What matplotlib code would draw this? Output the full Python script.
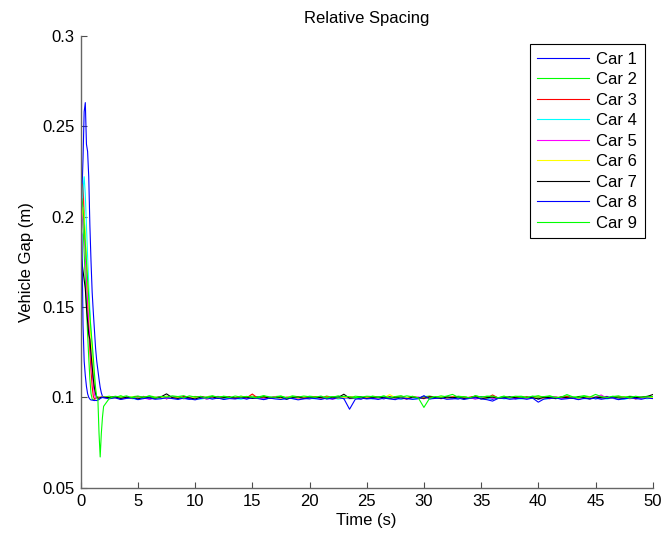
#imports
import numpy as np
from matplotlib import pyplot as plt

#time grid (s): fine samples through the start-up, then every 0.5 s
t_start = [0.0, 0.1, 0.2, 0.3, 0.4, 0.5, 0.6, 0.7, 0.8, 0.9, 1.0,
           1.1, 1.2, 1.3, 1.4, 1.5, 1.6, 1.7, 1.8, 1.9, 2.0]
t_steady = np.arange(2.5, 50.01, 0.5)

car_names = ["Car 1", "Car 2", "Car 3", "Car 4", "Car 5",
             "Car 6", "Car 7", "Car 8", "Car 9"]
#old matlab colour order b g r c m y k
car_colors = ["#0000ff", "#00ff00", "#ff0000", "#00ffff", "#ff00ff",
              "#ffff00", "#000000", "#0000ff", "#00ff00"]

#gap during start-up (mm)
car1_start = [205, 212, 232, 258, 263, 240, 236, 222, 195, 175, 158,
              147, 137, 127, 120, 115, 110, 105.5, 102.5, 100.5, 100.0]
car2_start = [200, 205, 195, 180, 165, 150, 135, 122, 110, 102, 99.0,
              98.5, 99.0, 99.5, 100.0, 100.1, 100.0, 99.9, 100.1, 100.0, 100.1]
car3_start = [190, 205, 218, 200, 185, 168, 152, 138, 126, 115, 106,
              100.5, 99.0, 99.3, 99.8, 100.0, 99.9, 100.0, 100.1, 99.9, 100.0]
car4_start = [180, 200, 215, 222, 212, 195, 178, 162, 148, 136, 125,
              115, 107, 101, 99.3, 99.5, 99.8, 99.9, 99.7, 99.8, 99.9]
car5_start = [185, 195, 205, 195, 180, 168, 155, 143, 132, 122, 114,
              107, 101.5, 99.5, 99.4, 99.8, 100.0, 99.8, 99.9, 100.0, 99.8]
car6_start = [195, 200, 205, 200, 190, 178, 165, 153, 142, 132, 123,
              115, 108, 103, 100.0, 99.5, 99.8, 100.0, 99.9, 100.1, 99.9]
car7_start = [180, 175, 170, 165, 160, 150, 142, 135, 132, 124, 117,
              110, 105, 102, 100.3, 99.6, 99.5, 99.8, 100.0, 99.9, 100.0]
car8_start = [195, 190, 140, 120, 112, 106, 102, 100.0, 99.0, 98.5, 98.5,
              98.3, 98.2, 98.3, 98.2, 98.5, 98.8, 99.3, 99.7, 100.0, 99.8]
car9_start = [200, 210, 205, 195, 185, 175, 165, 155, 145, 137, 130,
              122, 113, 105, 100.0, 98.8, 80.0, 67.0, 80.0, 89.0, 95.0]

#gap from 2.5 s to 50 s (mm)
car1_steady = [99.6, 100.4, 99.1, 100.2, 99.3, 99.9, 100.5, 99.0, 99.7, 100.3, 99.2, 100.0,
               100.4, 99.4, 98.9, 99.8, 100.3, 99.1, 99.6, 100.5, 99.0, 99.9, 99.5, 100.2,
               99.2, 99.8, 100.4, 99.0, 99.5, 100.3, 99.3, 98.9, 99.9, 100.4, 99.4, 99.1,
               99.8, 100.3, 99.0, 99.5, 100.4, 99.2, 99.7, 99.4, 98.9, 100.2, 99.6, 99.8,
               99.1, 100.4, 99.5, 99.0, 99.8, 100.2, 99.4, 100.6, 99.2, 99.7, 99.5, 100.1,
               99.4, 99.0, 100.2, 99.7, 99.2, 100.4, 99.5, 98.9, 99.8, 99.4, 100.3, 99.1,
               99.7, 99.3, 100.4, 99.0, 99.5, 100.2, 99.2, 99.8, 100.4, 99.4, 99.0, 99.7,
               100.2, 99.1, 99.7, 100.5, 99.4, 99.0, 99.8, 100.3, 99.2, 99.5, 100.4, 100.3]
car2_steady = [100.6, 99.8, 100.9, 99.6, 100.3, 100.7, 99.9, 100.8, 100.2, 99.5, 100.6, 100.0,
               100.4, 100.9, 99.7, 100.5, 99.5, 100.3, 100.8, 99.8, 100.6, 100.2, 99.6, 100.7,
               99.9, 100.6, 100.2, 100.9, 99.5, 100.4, 100.7, 99.8, 100.8, 100.3, 99.9, 100.6,
               100.3, 99.6, 100.7, 100.0, 100.8, 100.2, 99.7, 100.6, 100.3, 99.4, 100.7, 100.1,
               100.7, 99.9, 100.4, 100.9, 99.8, 100.6, 99.6, 100.3, 100.7, 100.0, 100.8, 100.2,
               100.0, 100.6, 100.3, 99.5, 100.9, 100.1, 100.6, 100.3, 99.8, 100.7, 99.6, 100.4,
               100.6, 100.0, 100.3, 100.9, 99.9, 100.6, 100.2, 99.5, 100.7, 100.0, 100.4, 100.9,
               100.3, 99.9, 100.7, 99.5, 100.4, 100.8, 100.0, 100.6, 100.2, 99.8, 100.6, 100.3]
car3_steady = [99.7, 100.3, 99.4, 100.0, 99.6, 100.5, 99.3, 100.1, 99.8, 100.4, 99.2, 100.0,
               99.6, 100.3, 99.4, 100.1, 100.5, 99.7, 99.3, 100.2, 99.6, 100.1, 99.4, 100.3,
               99.7, 101.8, 99.4, 100.0, 99.6, 100.3, 99.2, 100.1, 99.7, 100.4, 99.5, 99.8,
               100.1, 99.5, 100.3, 99.7, 100.0, 99.3, 100.3, 99.8, 99.4, 100.1, 100.4, 99.7,
               99.4, 100.1, 99.7, 100.3, 99.5, 100.1, 99.8, 99.2, 100.3, 99.7, 100.0, 99.5,
               100.3, 99.7, 99.4, 100.1, 100.5, 99.7, 99.4, 101.3, 99.6, 100.0, 99.4, 100.3,
               99.8, 100.1, 99.5, 100.3, 99.7, 99.2, 100.1, 99.7, 100.4, 99.5, 100.0, 99.7,
               100.3, 99.5, 99.8, 100.1, 99.4, 100.3, 99.7, 100.0, 99.1, 99.8, 100.3, 99.8]
car4_steady = [99.4, 99.9, 99.1, 99.6, 99.3, 98.9, 99.7, 99.4, 100.0, 99.2, 99.6, 99.4,
               99.7, 99.2, 99.9, 99.4, 99.0, 99.6, 99.3, 99.9, 99.1, 99.7, 99.4, 98.9,
               99.8, 99.4, 99.6, 99.1, 99.4, 99.9, 99.0, 99.6, 99.3, 99.1, 99.8, 99.4,
               99.2, 99.6, 99.3, 99.9, 99.0, 99.6, 99.2, 99.4, 99.9, 99.6, 99.1, 99.4,
               99.6, 99.3, 99.9, 99.1, 99.6, 98.9, 99.4, 99.8, 99.2, 99.6, 99.3, 99.9,
               99.3, 99.7, 99.1, 99.8, 99.4, 99.7, 99.0, 99.4, 99.9, 99.1, 99.6, 99.3,
               99.1, 99.8, 99.4, 99.7, 99.0, 99.4, 99.9, 99.2, 99.6, 99.4, 99.8, 99.2,
               99.6, 99.3, 99.9, 99.1, 99.6, 99.4, 98.9, 99.6, 99.4, 99.8, 99.2, 99.6]
car5_steady = [99.6, 100.1, 99.0, 99.8, 99.4, 100.2, 99.6, 98.9, 99.8, 100.1, 99.4, 99.6,
               100.0, 99.2, 99.8, 99.6, 100.2, 99.0, 99.8, 99.4, 100.0, 99.6, 99.2, 99.8,
               99.4, 100.0, 99.6, 99.0, 99.8, 100.2, 99.4, 99.6, 100.0, 99.2, 99.8, 99.6,
               100.0, 99.4, 99.8, 98.9, 99.6, 100.0, 99.4, 99.8, 99.6, 100.2, 99.2, 99.6,
               99.8, 99.4, 100.0, 99.6, 99.0, 99.8, 100.2, 99.4, 99.6, 100.0, 99.2, 99.8,
               99.6, 100.0, 99.4, 99.8, 99.0, 99.6, 100.2, 99.4, 99.8, 99.6, 100.0, 99.2,
               99.8, 99.4, 100.0, 99.6, 99.2, 99.8, 100.2, 99.4, 99.6, 100.0, 99.0, 99.8,
               99.6, 100.0, 101.3, 99.4, 99.8, 99.6, 100.0, 99.2, 99.8, 99.6, 100.2, 99.6]
car6_steady = [100.0, 99.6, 100.3, 99.8, 100.1, 99.4, 100.3, 99.8, 100.0, 99.6, 100.5, 99.8,
               100.0, 99.6, 100.3, 99.8, 99.4, 100.0, 100.3, 99.6, 99.8, 100.0, 99.4, 100.3,
               99.8, 100.0, 99.6, 100.3, 99.8, 100.0, 99.4, 99.8, 100.3, 99.6, 100.0, 99.8,
               100.3, 99.6, 100.0, 99.8, 99.4, 100.0, 100.3, 99.8, 99.6, 100.0, 100.3, 99.8,
               99.6, 101.5, 99.8, 100.0, 99.6, 100.3, 99.8, 100.0, 99.4, 99.8, 100.3, 99.6,
               100.0, 99.8, 100.3, 99.6, 100.0, 99.4, 99.8, 100.3, 99.6, 100.0, 99.8, 100.3,
               99.6, 100.0, 99.8, 100.3, 99.4, 100.0, 99.6, 100.3, 99.8, 100.0, 99.6, 99.8,
               100.3, 99.8, 100.0, 99.6, 100.0, 99.8, 100.3, 99.4, 99.8, 100.0, 99.6, 100.0]
car7_steady = [99.8, 100.2, 99.4, 100.0, 99.7, 99.1, 100.1, 99.8, 99.4, 100.2, 101.9, 99.8,
               99.4, 100.1, 99.7, 99.0, 100.2, 99.8, 100.3, 99.4, 99.8, 100.1, 99.5, 99.8,
               100.1, 99.4, 99.8, 100.3, 99.5, 99.8, 100.1, 99.1, 99.8, 100.1, 99.5, 99.8,
               100.1, 99.8, 99.4, 100.1, 99.8, 101.7, 99.5, 99.8, 100.1, 99.4, 99.8, 100.1,
               99.8, 99.4, 100.1, 99.8, 99.1, 100.1, 99.8, 99.5, 100.2, 99.8, 99.4, 100.1,
               99.8, 100.1, 99.4, 99.8, 100.2, 99.1, 99.8, 100.1, 99.5, 99.8, 100.2, 99.8,
               99.5, 100.1, 99.8, 99.1, 100.1, 99.8, 99.4, 100.2, 99.8, 99.5, 100.1, 99.8,
               99.1, 100.1, 99.8, 99.5, 100.2, 99.8, 99.4, 100.1, 99.8, 100.1, 100.4, 101.5]
car8_steady = [99.2, 99.7, 98.8, 99.4, 99.8, 98.7, 99.3, 99.7, 98.9, 99.2, 99.8, 99.3,
               98.8, 99.6, 99.1, 98.6, 99.4, 99.8, 99.0, 99.6, 98.8, 99.3, 99.1, 99.7,
               99.0, 99.8, 99.3, 98.7, 99.6, 99.1, 98.8, 99.7, 99.3, 98.6, 99.1, 99.6,
               99.3, 98.8, 99.6, 99.1, 99.8, 99.3, 93.4, 98.9, 99.6, 99.1, 99.4, 98.8,
               99.6, 99.1, 98.7, 99.8, 99.3, 98.9, 99.2, 100.9, 99.1, 99.4, 99.8, 98.9,
               99.1, 99.6, 98.8, 99.4, 99.8, 99.1, 98.7, 97.9, 99.4, 99.6, 98.9, 99.2,
               99.4, 98.9, 99.6, 97.3, 99.1, 99.4, 99.8, 98.9, 99.2, 99.6, 98.7, 99.4,
               99.1, 99.6, 98.9, 99.4, 99.8, 98.7, 99.2, 99.6, 99.4, 98.9, 99.6, 99.3]
car9_steady = [99.4, 100.6, 100.1, 100.8, 99.7, 100.4, 100.0, 100.7, 99.6, 100.5, 100.1, 100.8,
               100.4, 99.7, 100.8, 100.1, 100.5, 99.5, 100.7, 100.2, 100.5, 99.8, 100.7, 100.1,
               100.5, 100.0, 99.7, 100.8, 100.3, 100.0, 100.6, 99.6, 100.4, 100.1, 100.7, 100.3,
               100.0, 100.7, 99.6, 100.4, 100.1, 100.6, 100.3, 99.8, 100.1, 100.6, 100.4, 100.0,
               100.7, 99.7, 100.4, 100.1, 100.8, 100.3, 99.8, 94.4, 99.5, 100.4, 100.0, 100.7,
               101.6, 100.0, 100.4, 99.7, 100.8, 100.1, 100.5, 100.7, 99.7, 100.4, 100.0, 100.6,
               100.3, 99.7, 100.7, 100.1, 100.4, 100.8, 99.8, 100.1, 101.5, 100.3, 99.7, 100.6,
               100.1, 101.6, 100.4, 99.8, 100.6, 100.1, 100.3, 99.7, 100.6, 100.1, 100.3, 100.4]

starts = [car1_start, car2_start, car3_start, car4_start, car5_start,
          car6_start, car7_start, car8_start, car9_start]
steadies = [car1_steady, car2_steady, car3_steady, car4_steady, car5_steady,
            car6_steady, car7_steady, car8_steady, car9_steady]

#main
if __name__ == '__main__':
    plt.rcParams['font.family'] = 'Liberation Sans'
    plt.rcParams['font.size'] = 12

    fig = plt.figure(figsize=(6.65, 5.38), dpi=100)
    ax = fig.add_axes([0.1214, 0.0935, 0.8601, 0.8401])

    t = np.concatenate([t_start, t_steady])
    for name, color, s0, s1 in zip(car_names, car_colors, starts, steadies):
        gap = np.concatenate([s0, s1]) / 1000.0  #mm -> m
        ax.plot(t, gap, color=color, lw=0.8, label=name)

    ax.set_xlim(0, 50)
    ax.set_ylim(0.05, 0.3)
    ax.set_xticks(np.arange(0, 51, 5))
    ax.set_yticks([0.05, 0.1, 0.15, 0.2, 0.25, 0.3])
    ax.set_yticklabels(["0.05", "0.1", "0.15", "0.2", "0.25", "0.3"])

    #matlab style axes: box off, ticks inside
    ax.spines['top'].set_visible(False)
    ax.spines['right'].set_visible(False)
    for side in ['left', 'bottom']:
        ax.spines[side].set_color('0.4')
        ax.spines[side].set_linewidth(1.0)
    ax.tick_params(direction='in', length=4.5, width=0.8, color='0.3', pad=4.5)

    ax.set_title("Relative Spacing", fontsize=12, pad=9)
    ax.set_xlabel("Time (s)", labelpad=3)
    ax.set_ylabel("Vehicle Gap (m)", labelpad=6)

    leg = ax.legend(loc='upper right', bbox_to_anchor=(0.9865, 0.9816),
                    fancybox=False, edgecolor='black', framealpha=1,
                    handlelength=3.1, handletextpad=0.45, labelspacing=0.33,
                    borderpad=0.45, borderaxespad=0)
    leg.get_frame().set_linewidth(0.8)

    fig.savefig("out.png", dpi=100)
